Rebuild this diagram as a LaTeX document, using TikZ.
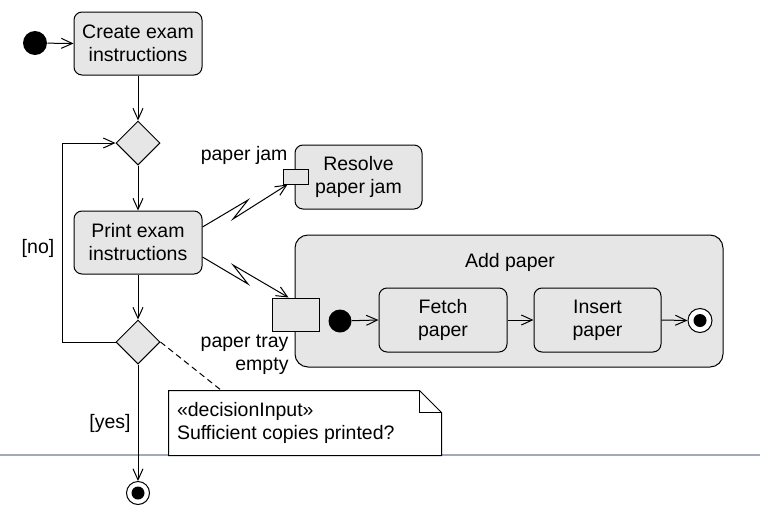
\documentclass[tikz,border=0pt]{standalone}
\usepackage{fontspec}
\setmainfont{Liberation Sans}
\usetikzlibrary{shapes.geometric,arrows.meta,calc}
\definecolor{boxfill}{HTML}{E6E6E6}
\definecolor{sepline}{RGB}{160,170,185}
\begin{document}
\begin{tikzpicture}[x=1pt,y=-1pt, line width=1pt,
  >={Straight Barb[length=11pt,width=10pt]},
  font=\fontsize{19.5}{23}\selectfont,
  act/.style={draw, fill=boxfill, rounded corners=8pt, minimum width=128pt, minimum height=63pt, align=center, inner sep=0pt},
  dec/.style={draw, fill=boxfill, diamond, minimum width=44pt, minimum height=44pt, inner sep=0pt},
  pinbox/.style={draw, fill=boxfill, inner sep=0pt},
  startdot/.style={circle, fill=black, inner sep=0pt, minimum size=24pt},
  enddot/.style={circle, draw, fill=white, inner sep=0pt, minimum size=23pt,
    path picture={\fill[black] (path picture bounding box.center) circle (6.5pt);}},
  lbl/.style={inner sep=0pt, align=right}]
\useasboundingbox (0,0) rectangle (760,517);

% separator line
\draw[sepline, line width=1.2pt] (0,455) -- (760,455);

% main flow
\node[startdot] (init) at (35,43) {};
\node[act] (create) at (138,43.5) {Create exam\\instructions};
\node[dec] (d1) at (138,143) {};
\node[act] (print) at (138,242.5) {Print exam\\instructions};
\node[dec] (d2) at (138,342) {};
\node[enddot] (final) at (138,493) {};

\draw[->] (init) -- (create.west);
\draw[->] (create.south) -- (d1.north);
\draw[->] (d1.south) -- (print.north);
\draw[->] (print.south) -- (d2.north);
\draw[->] (d2.south) -- (final.north);
\draw[->] (d2.west) -- ++(-53,0) |- (d1.west);

\node (nolabel) at (38,248) {[no]};
\node (yeslabel) at (110,423) {[yes]};

% resolve paper jam
\node[act, minimum width=127pt, minimum height=64pt] (resolve) at (358.5,177) {Resolve\\paper jam};
\node[pinbox, minimum width=25pt, minimum height=15pt] (pin1) at (295.5,176.5) {};
\node[lbl, anchor=east] (pjlabel) at (288,155) {paper jam};

% add paper region
\node[draw, fill=boxfill, rounded corners=13pt, minimum width=428pt, minimum height=132pt, inner sep=0pt] (addpaper) at (509,301) {};
\node (addlabel) at (510,262) {Add paper};
\node[pinbox, minimum width=47pt, minimum height=33pt] (pin2) at (295.5,314.5) {};
\node[lbl, anchor=east] (ptlabel) at (289,354.5) {paper tray\\empty};

\node[startdot, minimum size=23pt] (init2) at (340,321) {};
\node[act, minimum height=64pt] (fetch) at (443,320) {Fetch\\paper};
\node[act, minimum width=127pt, minimum height=64pt] (insert) at (597.5,320) {Insert\\paper};
\node[enddot, minimum size=24pt] (final2) at (700,320.5) {};

\draw[->] (init2) -- (fetch.west);
\draw[->] (fetch.east) -- (insert.west);
\draw[->] (insert.east) -- (final2.west);

% interrupting edges (lightning)
\draw[->] ($(print.east)+(0,-15.5)$) -- (248,200) -- (233,219) -- ($(pin1.south west)+(5,0)$);
\draw[->] ($(print.east)+(0,14.5)$) -- (248,284) -- (233,265) -- ($(pin2.north west)+(17,0)$);

% note
\node[minimum width=272pt, minimum height=64pt, inner sep=0pt] (note) at (305,423) {};
\draw[fill=white] (note.north west) -- ($(note.north east)+(-22,0)$) -- ($(note.north east)+(0,22)$) -- (note.south east) -- (note.south west) -- cycle;
\draw ($(note.north east)+(-22,0)$) -- ++(0,22) -- ++(22,0);
\node[anchor=west, align=left, inner sep=0pt] (notetext) at ($(note.west)+(8,0)$) {«decisionInput»\\Sufficient copies printed?};
\draw[dash pattern=on 6pt off 4pt] (d2.east) -- ($(note.north west)+(53,0)$);
\end{tikzpicture}
\end{document}
